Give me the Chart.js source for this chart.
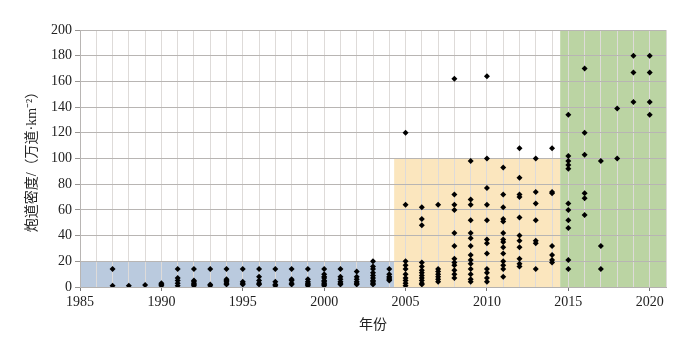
<!DOCTYPE html>
<html>
<head>
<meta charset="utf-8">
<script src="https://cdn.jsdelivr.net/npm/chart.js@4"></script>
<style>
  html, body { margin: 0; padding: 0; background: #fff; }
  #wrap { width: 700px; height: 354px; }
</style>
</head>
<body>
<div id="wrap"><canvas id="densityChart"></canvas></div>
<script>
// years that have measurements
const years = [1987, 1988, 1989, 1990, 1991, 1992, 1993, 1994, 1995, 1996,
  1997, 1998, 1999, 2000, 2001, 2002, 2003, 2004, 2005, 2006, 2007, 2008,
  2009, 2010, 2011, 2012, 2013, 2014, 2015, 2016, 2017, 2018, 2019, 2020];

// shot density values for each year (万道/km2)
const densities = [
  [14, 1],
  [1],
  [1.5],
  [1, 2, 3],
  [14, 7, 5, 3, 1],
  [14, 5, 4, 3, 2, 1],
  [14, 2, 1],
  [14, 6, 5, 4, 3, 2],
  [14, 4, 3, 2],
  [14, 8, 5, 3, 2],
  [14, 4, 2, 1],
  [14, 6, 5, 3, 2],
  [14, 6, 4, 3, 2, 1],
  [14, 10, 8, 7, 5, 4, 3, 2, 1],
  [14, 8, 6, 4, 3, 2],
  [12, 8, 6, 4, 3, 2],
  [20, 16, 14, 11, 9, 7, 5, 4, 3, 2],
  [14, 10, 8, 7, 6, 5],
  [120, 64, 20, 17, 14, 10, 7, 5, 3, 1],
  [62, 53, 48, 19, 16, 13, 11, 9, 7, 5, 3, 2],
  [64, 14, 12, 10, 8, 6, 4],
  [162, 72, 64, 60, 42, 32, 22, 19, 17, 13, 10, 7],
  [98, 68, 64, 52, 42, 38, 32, 25, 21, 18, 14, 10, 6, 4],
  [164, 100, 77, 64, 52, 37, 34, 26, 14, 11, 7, 4],
  [93, 72, 62, 53, 51, 42, 37, 35, 31, 26, 20, 17, 14, 8],
  [108, 85, 72, 70, 54, 40, 36, 31, 22, 18, 16],
  [100, 74, 65, 52, 36, 34, 14],
  [108, 74, 73, 32, 25, 21, 19],
  [134, 102, 98, 95, 92, 65, 60, 52, 46, 21, 14],
  [170, 120, 103, 73, 69, 56],
  [98, 32, 14],
  [139, 100],
  [180, 167, 144],
  [180, 167, 144, 134]
];

// shaded stages
const stageStart = [1985, 2004.3, 2014.5];
const stageEnd = [2004.3, 2014.5, 2021];
const stageTop = [20, 100, 200];
const stageColors = ["rgb(186,202,222)", "rgb(251,230,190)", "rgb(187,212,163)"];

const yTicks = [0, 20, 40, 60, 80, 100, 120, 140, 160, 180, 200];

const points = [];
years.forEach((yr, i) => {
  densities[i].forEach(v => points.push({ x: yr, y: v }));
});

const stagePlugin = {
  id: "stages",
  beforeDraw(chart) {
    const { ctx, scales: { x, y } } = chart;
    ctx.save();
    stageStart.forEach((s, i) => {
      const left = x.getPixelForValue(s);
      const right = x.getPixelForValue(stageEnd[i]);
      const top = y.getPixelForValue(stageTop[i]);
      const bottom = y.getPixelForValue(0);
      ctx.fillStyle = stageColors[i];
      ctx.fillRect(left, top, right - left, bottom - top);
    });
    ctx.restore();
  }
};

const serif = "'Liberation Serif', 'Noto Sans CJK SC', serif";

new Chart(document.getElementById("densityChart"), {
  type: "scatter",
  data: {
    datasets: [{
      data: points,
      pointStyle: "rectRot",
      pointRadius: 3,
      pointBackgroundColor: "#000",
      pointBorderColor: "#000",
      pointBorderWidth: 0
    }]
  },
  options: {
    responsive: true,
    maintainAspectRatio: false,
    animation: false,
    layout: { padding: { left: 12, right: 34, top: 30, bottom: 8 } },
    plugins: {
      legend: { display: false },
      tooltip: { enabled: false }
    },
    scales: {
      x: {
        type: "linear",
        min: 1985,
        max: 2021,
        afterFit(scale) { scale.height = 354 - 287 - 8; },
        ticks: {
          stepSize: 1,
          autoSkip: false,
          maxRotation: 0,
          padding: 3,
          color: "#222",
          font: { family: serif, size: 14 },
          callback: v => (v % 5 === 0 && v <= 2020) ? String(v) : ""
        },
        grid: {
          color: "rgb(222,219,217)",
          lineWidth: 1,
          tickLength: 4,
          tickColor: ctx => (ctx.tick && ctx.tick.value % 5 === 0) ? "#777" : "rgba(0,0,0,0)"
        },
        border: { color: "rgb(180,177,175)" },
        title: {
          display: true,
          text: "年份",
          color: "#222",
          font: { family: serif, size: 14 },
          padding: { top: 4, bottom: 12 }
        }
      },
      y: {
        min: 0,
        max: 200,
        afterFit(scale) { scale.width = 80 - 12; },
        afterBuildTicks(scale) { scale.ticks = yTicks.map(v => ({ value: v })); },
        ticks: {
          padding: 3,
          color: "#222",
          font: { family: serif, size: 14 }
        },
        grid: {
          color: "rgb(184,181,179)",
          lineWidth: 1,
          tickLength: 5,
          tickColor: "rgb(150,147,145)"
        },
        border: { color: "rgb(184,181,179)" },
        title: {
          display: true,
          text: "炮道密度/（万道·km⁻²）",
          color: "#222",
          font: { family: serif, size: 14 },
          padding: { top: 12, bottom: 4 }
        }
      }
    }
  },
  plugins: [stagePlugin]
});
</script>
</body>
</html>
